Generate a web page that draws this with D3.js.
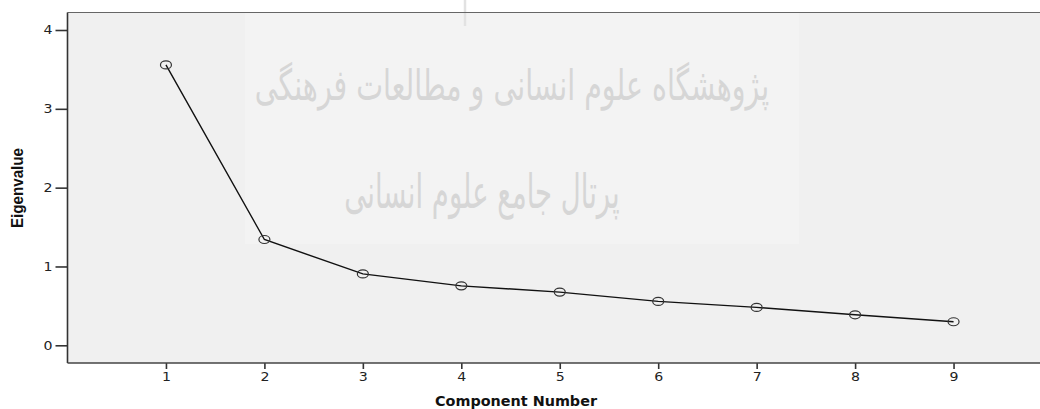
<!DOCTYPE html>
<html><head><meta charset="utf-8">
<script src="https://cdn.jsdelivr.net/npm/d3@7"></script>
<style>html,body{margin:0;padding:0;background:#fff;overflow:hidden}</style>
</head><body>
<svg id="c" width="1040" height="409"></svg>
<script>
const components = [1,2,3,4,5,6,7,8,9];
const eigenvalues = [3.557,1.342,0.906,0.754,0.675,0.557,0.481,0.387,0.299];
const yTicks = [0,1,2,3,4];
const xTicks = [1,2,3,4,5,6,7,8,9];
const xTitle = "Component Number";
const yTitle = "Eigenvalue";
const watermark = ["پژوهشگاه علوم انسانی و مطالعات فرهنگی","پرتال جامع علوم انسانی"];

const svg = d3.select("#c");
const L = 67.5, T = 12.5, B = 363, R = 1040;
const x = d3.scaleLinear().domain([0,10]).range([L, L + 984.5]);
const y = d3.scaleLinear().domain([0,4]).range([345.3, 30]);

svg.append("rect").attr("x",L).attr("y",T).attr("width",R-L).attr("height",B-T).attr("fill","#f0f0f0");
svg.append("rect").attr("x",245).attr("y",T).attr("width",554).attr("height",244-T).attr("fill","#f3f3f3");

const wm = svg.append("g").attr("fill","#d6d6d6").attr("font-family","DejaVu Sans");
wm.append("text").attr("transform","translate(512,100) scale(1,1.5)").attr("text-anchor","middle").attr("font-size",28.5)
  .text(watermark[0]);
wm.append("text").attr("transform","translate(482,208) scale(1,1.7)").attr("text-anchor","middle").attr("font-size",27.5)
  .text(watermark[1]);
svg.append("line").attr("x1",465).attr("x2",465).attr("y1",0).attr("y2",26).attr("stroke","#e2e2e2").attr("stroke-width",2.5);

svg.append("line").attr("x1",L).attr("x2",R).attr("y1",T).attr("y2",T).attr("stroke","#666").attr("stroke-width",1.2);

const yAxis = svg.append("g").attr("transform",`translate(${L},0)`)
  .call(d3.axisLeft(y).tickValues(yTicks).tickSize(12).tickPadding(3).tickFormat(d3.format("d")));
yAxis.select(".domain").remove();
yAxis.append("line").attr("x1",0).attr("x2",0).attr("y1",T).attr("y2",B).attr("stroke","#333").attr("stroke-width",1.6);

const xAxis = svg.append("g").attr("transform",`translate(0,${B})`)
  .call(d3.axisBottom(x).tickValues(xTicks).tickSize(6).tickPadding(3).tickFormat(d3.format("d")));
xAxis.select(".domain").remove();
xAxis.append("line").attr("x1",L).attr("x2",R).attr("y1",0).attr("y2",0).attr("stroke","#444").attr("stroke-width",1.4);

svg.selectAll(".tick line").attr("stroke","#333").attr("stroke-width",1.6);
svg.selectAll(".tick text").attr("font-family","DejaVu Sans").attr("font-size",12).attr("fill","#222")
  .attr("textLength",9).attr("lengthAdjust","spacingAndGlyphs");

const line = d3.line().x((d,i)=>x(components[i])).y(d=>y(d));
svg.append("path").datum(eigenvalues).attr("d",line).attr("fill","none").attr("stroke","#111").attr("stroke-width",1.4);
svg.selectAll(".pt").data(eigenvalues).join("ellipse").attr("class","pt")
  .attr("cx",(d,i)=>x(components[i])).attr("cy",d=>y(d)).attr("rx",5.5).attr("ry",4)
  .attr("fill","none").attr("stroke","#333").attr("stroke-width",1.2);

svg.append("text").attr("x",516).attr("y",406).attr("text-anchor","middle")
  .attr("font-family","DejaVu Sans").attr("font-weight","bold").attr("font-size",14.5)
  .attr("textLength",162).attr("lengthAdjust","spacingAndGlyphs").attr("fill","#111").text(xTitle);
svg.append("text").attr("transform","translate(23,188) rotate(-90)").attr("text-anchor","middle")
  .attr("font-family","Liberation Sans Narrow, Liberation Sans, Arial").attr("font-weight","bold").attr("font-size",16)
  .attr("textLength",80).attr("lengthAdjust","spacingAndGlyphs").attr("fill","#111").text(yTitle);
</script>
</body></html>
